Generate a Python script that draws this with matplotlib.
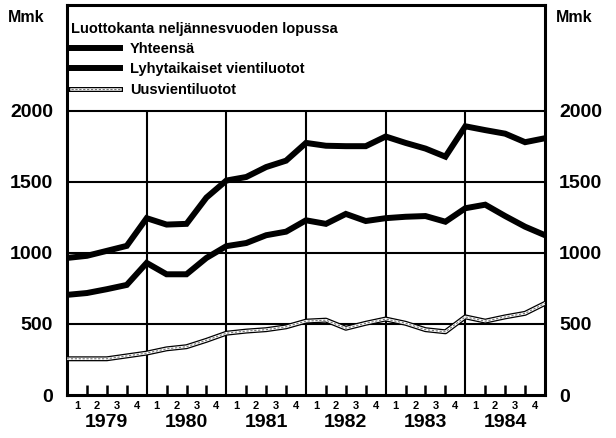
import numpy as np
import matplotlib
matplotlib.use("Agg")
import matplotlib.pyplot as plt
from matplotlib.lines import Line2D
from matplotlib.legend_handler import HandlerTuple
import matplotlib.patheffects as pe

plt.rcParams["font.family"] = ["Liberation Sans", "DejaVu Sans"]
plt.rcParams["font.weight"] = "bold"

# quarter-end stock, end of 1978 Q4 .. 1984 Q4 (Mmk)
years = ["1979", "1980", "1981", "1982", "1983", "1984"]
quarter_labels = ["1", "2", "3", "4"]
yhteensa = [965, 980, 1015, 1050, 1245, 1200, 1205, 1390, 1510,
            1535, 1605, 1650, 1775, 1755, 1752, 1752, 1820,
            1775, 1735, 1678, 1892, 1865, 1840, 1780, 1808]
lyhytaikaiset = [705, 718, 745, 775, 930, 850, 850, 965, 1048,
                 1070, 1125, 1150, 1230, 1205, 1275, 1225, 1245,
                 1255, 1260, 1220, 1315, 1340, 1260, 1185, 1125]
uusvienti = [255, 255, 255, 275, 295, 325, 340, 385, 435,
             450, 460, 480, 520, 527, 470, 505, 535,
             505, 460, 445, 550, 520, 550, 575, 645]

t = np.arange(len(yhteensa))
nq = len(t) - 1

fig = plt.figure(figsize=(6.16, 4.38), dpi=100)
ax = fig.add_axes([67 / 616, 1 - 395 / 438, (545 - 67) / 616, (395 - 5) / 438])
ax.set_xlim(0, nq)
ax.set_ylim(0, 2746)

# grid: horizontal full width, year separators up to 2000
for v in [500, 1000, 1500, 2000]:
    ax.axhline(v, color="black", lw=1.5, zorder=1)
ax.vlines(np.arange(4, nq, 4), 0, 2000, color="black", lw=1.5, zorder=1)

ax.plot(t, yhteensa, color="black", lw=4.3, solid_joinstyle="miter", zorder=3)
ax.plot(t, lyhytaikaiset, color="black", lw=4.3, solid_joinstyle="miter", zorder=3)
ax.plot(t, uusvienti, color="white", lw=1.8, zorder=3,
        path_effects=[pe.Stroke(linewidth=3.6, foreground="black"), pe.Normal()])
ax.plot(t, uusvienti, color="0.45", lw=0.8, ls=(0, (2, 1.5)), zorder=4)

for s in ax.spines.values():
    s.set_linewidth(2.2)

# y axis both sides
ax.set_yticks([0, 500, 1000, 1500, 2000])
ax.tick_params(axis="y", length=0, labelsize=14, pad=10, labelright=True)

# quarter labels centered, quarter-boundary ticks inward
ax.set_xticks(t[:-1] + 0.5)
ax.set_xticklabels(quarter_labels * len(years))
ax.tick_params(axis="x", which="major", length=0, labelsize=8, pad=4)
qb = [q for q in range(1, nq) if q % 4 != 0]
ax.set_xticks(qb, minor=True)
ax.tick_params(axis="x", which="minor", direction="in", length=7, width=1.8)

for i, yr in enumerate(years):
    ax.text(4 * i + 2, -0.07, yr, transform=ax.get_xaxis_transform(),
            ha="center", va="center", fontsize=14)

fig.text(8 / 616, 1 - 18 / 438, "Mmk", fontsize=11.5, va="center", ha="left")
fig.text(556 / 616, 1 - 18 / 438, "Mmk", fontsize=11.5, va="center", ha="left")

h1 = Line2D([], [], color="black", lw=4.3)
h2 = Line2D([], [], color="black", lw=4.3)
h3a = Line2D([], [], color="white", lw=1.8,
             path_effects=[pe.Stroke(linewidth=3.6, foreground="black"), pe.Normal()])
h3b = Line2D([], [], color="0.45", lw=0.8, ls=(0, (2, 1.5)))
leg = ax.legend([h1, h2, (h3a, h3b)],
                ["Yhteensä", "Lyhytaikaiset vientiluotot", "Uusvientiluotot"],
                handler_map={tuple: HandlerTuple(ndivide=1, pad=0)},
                title="Luottokanta neljännesvuoden lopussa",
                loc="upper left", bbox_to_anchor=(0.0, 0.967),
                frameon=False, fontsize=10.5,
                title_fontproperties={"size": 10.5, "weight": "bold"},
                alignment="left", handlelength=3.3, handletextpad=0.7,
                labelspacing=0.42, borderaxespad=0, borderpad=0.3)

fig.savefig("out.png", dpi=100)
